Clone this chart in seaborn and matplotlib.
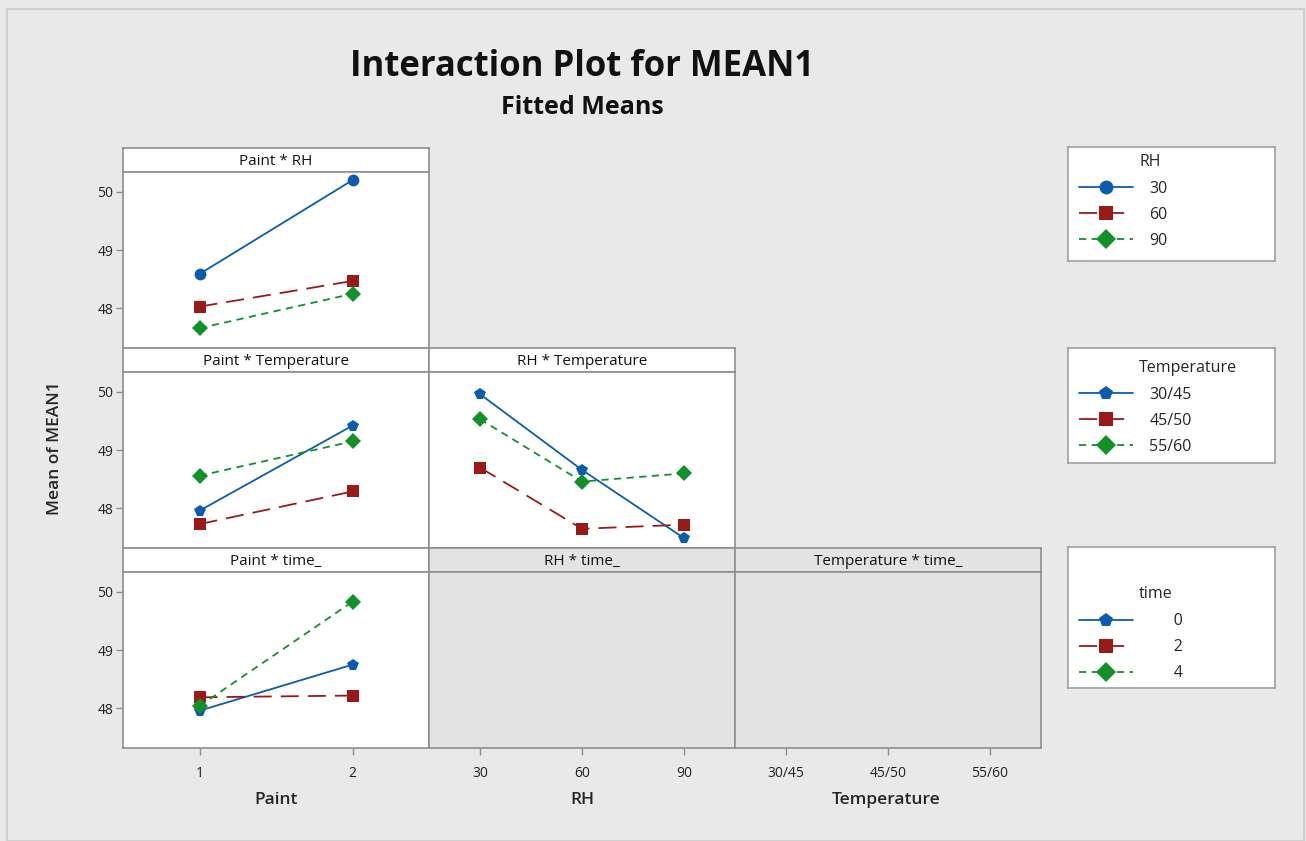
import numpy as np
import pandas as pd
import matplotlib
matplotlib.use("Agg")
import matplotlib.pyplot as plt
from matplotlib.lines import Line2D
from matplotlib.patches import Rectangle
import seaborn as sns

sns.set_theme(style="white")
plt.rcParams['font.family'] = ['Open Sans', 'DejaVu Sans']

# ---------------- data ----------------
paint_levels = [1, 2]
rh_levels = [30, 60, 90]
temp_levels = ["30/45", "45/50", "55/60"]
time_levels = ["0", "2", "4"]

# Paint * RH  (rows: RH level, cols: Paint level)
paint_rh_30 = [48.59, 50.20]
paint_rh_60 = [48.03, 48.47]
paint_rh_90 = [47.66, 48.25]

# Paint * Temperature
paint_temp_3045 = [47.96, 49.42]
paint_temp_4550 = [47.73, 48.29]
paint_temp_5560 = [48.56, 49.15]

# RH * Temperature (x = RH)
rh_temp_3045 = [49.96, 48.66, 47.49]
rh_temp_4550 = [48.70, 47.65, 47.72]
rh_temp_5560 = [49.53, 48.46, 48.60]

# Paint * time
paint_time_0 = [47.96, 48.75]
paint_time_2 = [48.19, 48.22]
paint_time_4 = [48.04, 49.83]

y_ticks = [48, 49, 50]

# ---------------- styles ----------------
BLUE = "#0b5cb0"
RED = "#9a1a1a"
GREEN = "#12902a"
BG = "#e9e9e9"
EMPTY = "#e3e3e3"
EDGE = "#8e8e8e"

colors3 = [BLUE, RED, GREEN]
dash3 = ["", (10, 5), (4, 3)]

W, H = 1306, 841
fig = plt.figure(figsize=(W / 100, H / 100), dpi=100, facecolor=BG)

def px_axes(x0, y0, x1, y1, **kw):
    return fig.add_axes([x0 / W, 1 - y1 / H, (x1 - x0) / W, (y1 - y0) / H], **kw)

# outer border
fig.patches.append(Rectangle((7 / W, 0), (1304 - 7) / W, 1 - 9 / H, transform=fig.transFigure,
                             fill=False, edgecolor="#cfcfcf", linewidth=1.5))

cols = [(123, 429), (429, 735), (735, 1041)]
rows = [(148, 172, 348), (348, 372, 548), (548, 572, 748)]
YLIM = (47.32, 50.34)

def draw_panel(ax, x, series, labels, markers, xlim):
    recs = []
    for lab, vals in zip(labels, series):
        for xv, yv in zip(x, vals):
            recs.append({"x": xv, "y": yv, "g": lab})
    df = pd.DataFrame(recs)
    sns.lineplot(data=df, x="x", y="y", hue="g", style="g",
                 palette=dict(zip(labels, colors3)),
                 markers=dict(zip(labels, markers)),
                 dashes=dict(zip(labels, dash3)),
                 markersize=8.5, linewidth=1.3, markeredgewidth=0,
                 legend=False, ax=ax, sort=False)
    ax.set_xlim(*xlim)

def style_axes(ax, face="white", left=False, bottom=False):
    ax.set_facecolor(face)
    for s in ax.spines.values():
        s.set_color(EDGE)
        s.set_linewidth(1.2)
    ax.set_ylim(*YLIM)
    ax.set_xlabel("")
    ax.set_ylabel("")
    ax.tick_params(axis="both", length=5, width=1, color=EDGE, labelsize=10, pad=2,
                   labelcolor="#222222")
    if left:
        ax.set_yticks(y_ticks)
        ax.set_yticklabels([str(t) for t in y_ticks])
        ax.tick_params(axis="y", left=True)
    else:
        ax.set_yticks([])
    if not bottom:
        ax.set_xticks([])
    else:
        ax.tick_params(axis="x", bottom=True, pad=8)

def strip(x0, x1, ytop, ybot, text, face="white"):
    sa = px_axes(x0, ytop, x1, ybot)
    sa.set_facecolor(face)
    sa.set_xticks([]); sa.set_yticks([])
    for s in sa.spines.values():
        s.set_color(EDGE); s.set_linewidth(1.2)
    sa.text(0.5, 0.45, text, ha="center", va="center", fontsize=11, color="#111111",
            transform=sa.transAxes)

# Row 1: Paint * RH
(x0, x1) = cols[0]; (st, pt, pb) = rows[0]
strip(x0, x1, st, pt, "Paint * RH")
ax = px_axes(x0, pt, x1, pb)
draw_panel(ax, paint_levels, [paint_rh_30, paint_rh_60, paint_rh_90],
           [str(v) for v in rh_levels], ["o", "s", "D"], (0.5, 2.5))
style_axes(ax, left=True)

# Row 2: Paint * Temperature, RH * Temperature
(st, pt, pb) = rows[1]
x0, x1 = cols[0]
strip(x0, x1, st, pt, "Paint * Temperature")
ax = px_axes(x0, pt, x1, pb)
draw_panel(ax, paint_levels, [paint_temp_3045, paint_temp_4550, paint_temp_5560],
           temp_levels, ["p", "s", "D"], (0.5, 2.5))
style_axes(ax, left=True)

x0, x1 = cols[1]
strip(x0, x1, st, pt, "RH * Temperature")
ax = px_axes(x0, pt, x1, pb)
draw_panel(ax, rh_levels, [rh_temp_3045, rh_temp_4550, rh_temp_5560],
           temp_levels, ["p", "s", "D"], (15, 105))
style_axes(ax)

# Row 3: Paint * time_, RH * time_ (empty), Temperature * time_ (empty)
(st, pt, pb) = rows[2]
x0, x1 = cols[0]
strip(x0, x1, st, pt, "Paint * time_")
ax = px_axes(x0, pt, x1, pb)
draw_panel(ax, paint_levels, [paint_time_0, paint_time_2, paint_time_4],
           time_levels, ["p", "s", "D"], (0.5, 2.5))
style_axes(ax, left=True, bottom=True)
ax.set_xticks(paint_levels)
ax.set_xticklabels([str(v) for v in paint_levels])

x0, x1 = cols[1]
strip(x0, x1, st, pt, "RH * time_", face=EMPTY)
ax = px_axes(x0, pt, x1, pb)
style_axes(ax, face=EMPTY, bottom=True)
ax.set_xlim(15, 105)
ax.set_xticks(rh_levels)
ax.set_xticklabels([str(v) for v in rh_levels])

x0, x1 = cols[2]
strip(x0, x1, st, pt, "Temperature * time_", face=EMPTY)
ax = px_axes(x0, pt, x1, pb)
style_axes(ax, face=EMPTY, bottom=True)
ax.set_xlim(-0.5, 2.5)
ax.set_xticks(range(len(temp_levels)))
ax.set_xticklabels(temp_levels)

# axis labels
fig.text(276 / W, 1 - 800 / H, "Paint", ha="center", va="center", fontsize=12.5, weight="semibold")
fig.text(582 / W, 1 - 800 / H, "RH", ha="center", va="center", fontsize=12.5, weight="semibold")
fig.text(886 / W, 1 - 800 / H, "Temperature", ha="center", va="center", fontsize=12.5, weight="semibold")
fig.text(55 / W, 1 - 448 / H, "Mean of MEAN1", ha="center", va="center", rotation=90,
         fontsize=12.5, weight="semibold")

# titles
fig.text(582 / W, 1 - 67 / H, "Interaction Plot for MEAN1", ha="center", va="center",
         fontsize=25, weight="bold", color="#111111")
fig.text(582 / W, 1 - 107 / H, "Fitted Means", ha="center", va="center",
         fontsize=18, weight="bold", color="#111111")

# legends
def legend_box(y0, y1, title, labels, markers, anchor_y):
    la = px_axes(1068, y0, 1275, y1)
    la.set_facecolor("white")
    la.set_xticks([]); la.set_yticks([])
    for s in la.spines.values():
        s.set_color("#a0a0a0"); s.set_linewidth(1.2)
    handles = []
    for c, m, d, lab in zip(colors3, markers, dash3, labels):
        ls = "-" if d == "" else (0, d)
        handles.append(Line2D([], [], color=c, marker=m, markersize=10, linewidth=1.3,
                              linestyle=ls, markeredgewidth=0, label=lab))
    leg = la.legend(handles=handles, title=title, loc="upper left", frameon=False,
                    bbox_to_anchor=(0.0, anchor_y), fontsize=11.5, title_fontsize=11.5,
                    handlelength=3.4, handletextpad=1.0, labelspacing=0.62,
                    borderaxespad=0.3)
    leg._legend_box.align = "left"
    leg._legend_box.sep = 8
    leg.get_title().set_position((60, 0))
    return leg

legend_box(147, 261, "RH", [str(v) for v in rh_levels], ["o", "s", "D"], 1.04)
legend_box(348, 463, "Temperature", temp_levels, ["p", "s", "D"], 0.995)
legend_box(547, 688, "time", ["      " + t for t in time_levels], ["p", "s", "D"], 0.80)

fig.savefig("out.png", dpi=100, facecolor=BG)
